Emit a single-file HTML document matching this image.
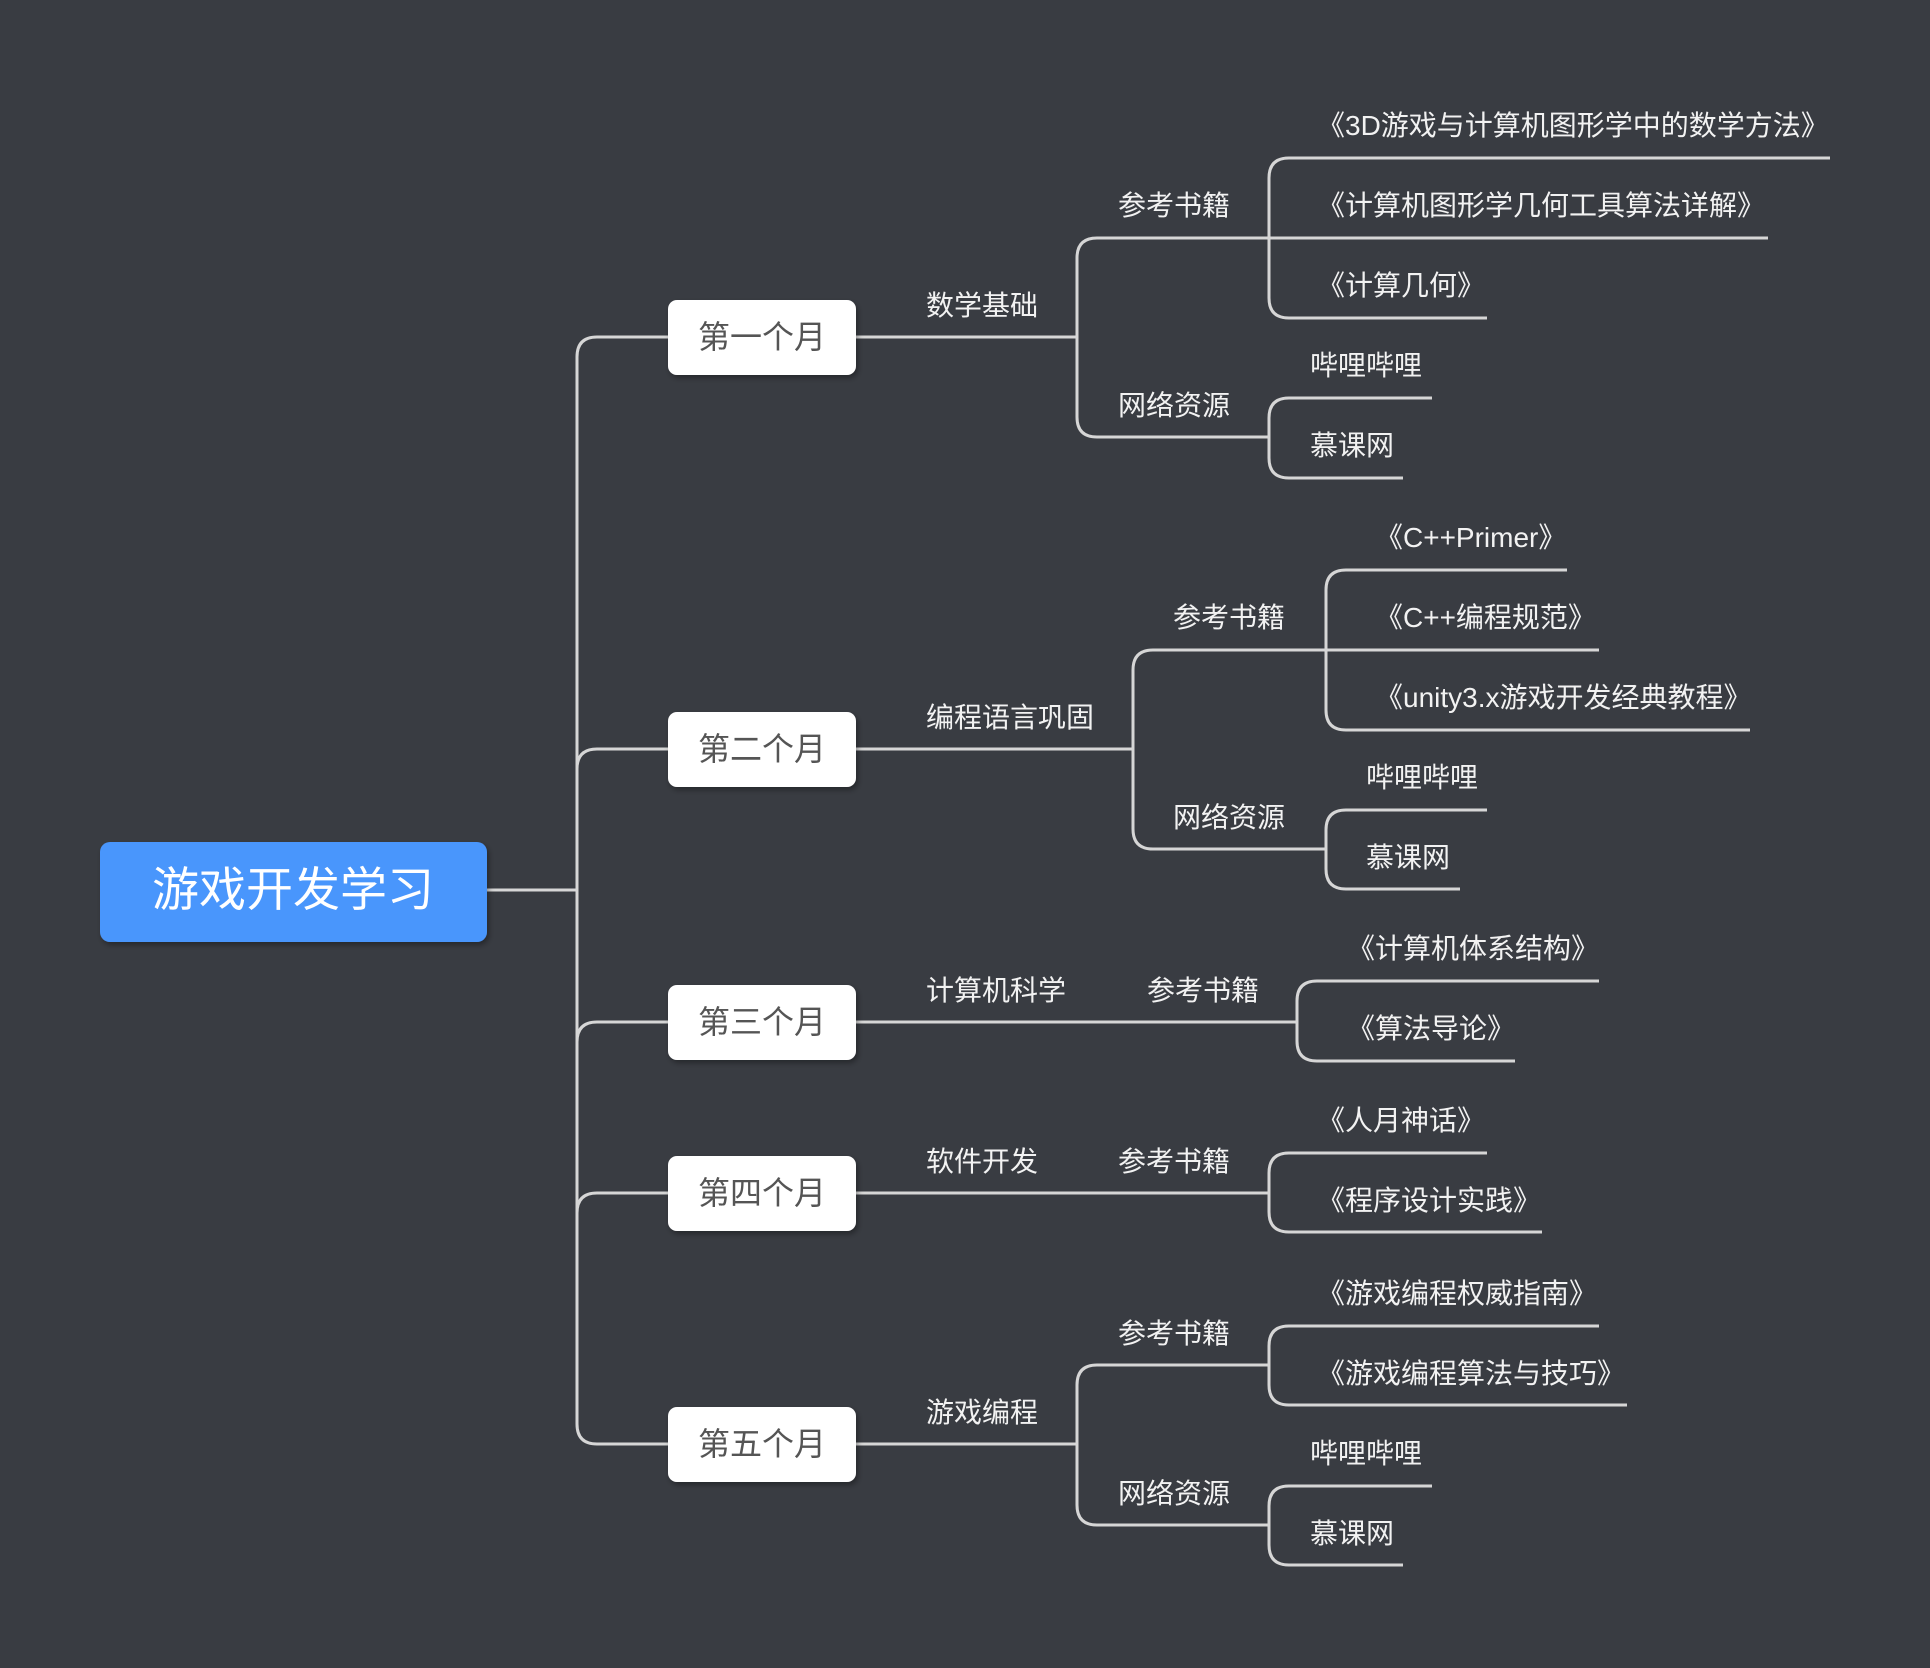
<!DOCTYPE html>
<html><head><meta charset="utf-8"><style>
html,body{margin:0;padding:0;background:#393c42;}
svg{display:block;}
text{font-family:"Liberation Sans","Noto Sans CJK SC",sans-serif;}
.l{fill:#f2f2f2;font-size:28px;}
.m{fill:#555;font-size:32px;}
</style></head><body>
<svg width="1930" height="1668" viewBox="0 0 1930 1668" xmlns="http://www.w3.org/2000/svg">
<defs><filter id="sh" x="-10%" y="-10%" width="130%" height="140%"><feDropShadow dx="2" dy="3" stdDeviation="3" flood-color="#000" flood-opacity="0.35"/></filter></defs>
<g fill="none" stroke="#d6d6d6" stroke-width="3">
<!-- trunk -->
<path d="M487 890 H577"/>
<path d="M577 357 V1424"/>
<path d="M577 357 Q577 337 597 337 H668"/>
<path d="M577 769 Q577 749 597 749 H668"/>
<path d="M577 1042 Q577 1022 597 1022 H668"/>
<path d="M577 1213 Q577 1193 597 1193 H668"/>
<path d="M577 1424 Q577 1444 597 1444 H668"/>
<!-- month1 -->
<path d="M856 337 H1077"/>
<path d="M1077 258 V417"/>
<path d="M1077 258 Q1077 238 1097 238 H1269"/>
<path d="M1077 417 Q1077 437 1097 437 H1269"/>
<path d="M1269 178 V298"/>
<path d="M1269 178 Q1269 158 1289 158 H1830"/>
<path d="M1269 238 H1768"/>
<path d="M1269 298 Q1269 318 1289 318 H1487"/>
<path d="M1269 418 V458"/>
<path d="M1269 418 Q1269 398 1289 398 H1432"/>
<path d="M1269 458 Q1269 478 1289 478 H1403"/>
<!-- month2 -->
<path d="M856 749 H1133"/>
<path d="M1133 670 V829"/>
<path d="M1133 670 Q1133 650 1153 650 H1326"/>
<path d="M1133 829 Q1133 849 1153 849 H1326"/>
<path d="M1326 590 V710"/>
<path d="M1326 590 Q1326 570 1346 570 H1567"/>
<path d="M1326 650 H1599"/>
<path d="M1326 710 Q1326 730 1346 730 H1750"/>
<path d="M1326 830 V869"/>
<path d="M1326 830 Q1326 810 1346 810 H1487"/>
<path d="M1326 869 Q1326 889 1346 889 H1460"/>
<!-- month3 -->
<path d="M856 1022 H1297"/>
<path d="M1297 1001 V1041"/>
<path d="M1297 1001 Q1297 981 1317 981 H1599"/>
<path d="M1297 1041 Q1297 1061 1317 1061 H1515"/>
<!-- month4 -->
<path d="M856 1193 H1269"/>
<path d="M1269 1173 V1212"/>
<path d="M1269 1173 Q1269 1153 1289 1153 H1487"/>
<path d="M1269 1212 Q1269 1232 1289 1232 H1542"/>
<!-- month5 -->
<path d="M856 1444 H1077"/>
<path d="M1077 1385 V1505"/>
<path d="M1077 1385 Q1077 1365 1097 1365 H1269"/>
<path d="M1077 1505 Q1077 1525 1097 1525 H1269"/>
<path d="M1269 1346 V1385"/>
<path d="M1269 1346 Q1269 1326 1289 1326 H1599"/>
<path d="M1269 1385 Q1269 1405 1289 1405 H1627"/>
<path d="M1269 1506 V1545"/>
<path d="M1269 1506 Q1269 1486 1289 1486 H1432"/>
<path d="M1269 1545 Q1269 1565 1289 1565 H1403"/>
</g>
<!-- root -->
<rect x="100" y="842" width="387" height="100" rx="10" fill="#4a96fc" filter="url(#sh)"/>
<text x="293" y="906" text-anchor="middle" font-size="47" fill="#fff">游戏开发学习</text>
<!-- months -->
<g filter="url(#sh)" fill="#fff">
<rect x="668" y="300" width="188" height="75" rx="9"/>
<rect x="668" y="712" width="188" height="75" rx="9"/>
<rect x="668" y="985" width="188" height="75" rx="9"/>
<rect x="668" y="1156" width="188" height="75" rx="9"/>
<rect x="668" y="1407" width="188" height="75" rx="9"/>
</g>
<g class="m" text-anchor="middle">
<text x="762" y="348">第一个月</text>
<text x="762" y="760">第二个月</text>
<text x="762" y="1033">第三个月</text>
<text x="762" y="1204">第四个月</text>
<text x="762" y="1455">第五个月</text>
</g>
<g class="l">
<text x="926" y="315">数学基础</text>
<text x="1118" y="215">参考书籍</text>
<text x="1118" y="415">网络资源</text>
<text x="1317" y="135">《3D游戏与计算机图形学中的数学方法》</text>
<text x="1317" y="215">《计算机图形学几何工具算法详解》</text>
<text x="1317" y="295">《计算几何》</text>
<text x="1310" y="375">哔哩哔哩</text>
<text x="1310" y="455">慕课网</text>

<text x="926" y="727">编程语言巩固</text>
<text x="1173" y="627">参考书籍</text>
<text x="1173" y="827">网络资源</text>
<text x="1375" y="547">《C++Primer》</text>
<text x="1375" y="627">《C++编程规范》</text>
<text x="1375" y="707">《unity3.x游戏开发经典教程》</text>
<text x="1366" y="787">哔哩哔哩</text>
<text x="1366" y="867">慕课网</text>

<text x="926" y="1000">计算机科学</text>
<text x="1147" y="1000">参考书籍</text>
<text x="1347" y="958">《计算机体系结构》</text>
<text x="1347" y="1038">《算法导论》</text>

<text x="926" y="1171">软件开发</text>
<text x="1118" y="1171">参考书籍</text>
<text x="1317" y="1130">《人月神话》</text>
<text x="1317" y="1210">《程序设计实践》</text>

<text x="926" y="1422">游戏编程</text>
<text x="1118" y="1343">参考书籍</text>
<text x="1118" y="1503">网络资源</text>
<text x="1317" y="1303">《游戏编程权威指南》</text>
<text x="1317" y="1383">《游戏编程算法与技巧》</text>
<text x="1310" y="1463">哔哩哔哩</text>
<text x="1310" y="1543">慕课网</text>
</g>
</svg>
</body></html>
